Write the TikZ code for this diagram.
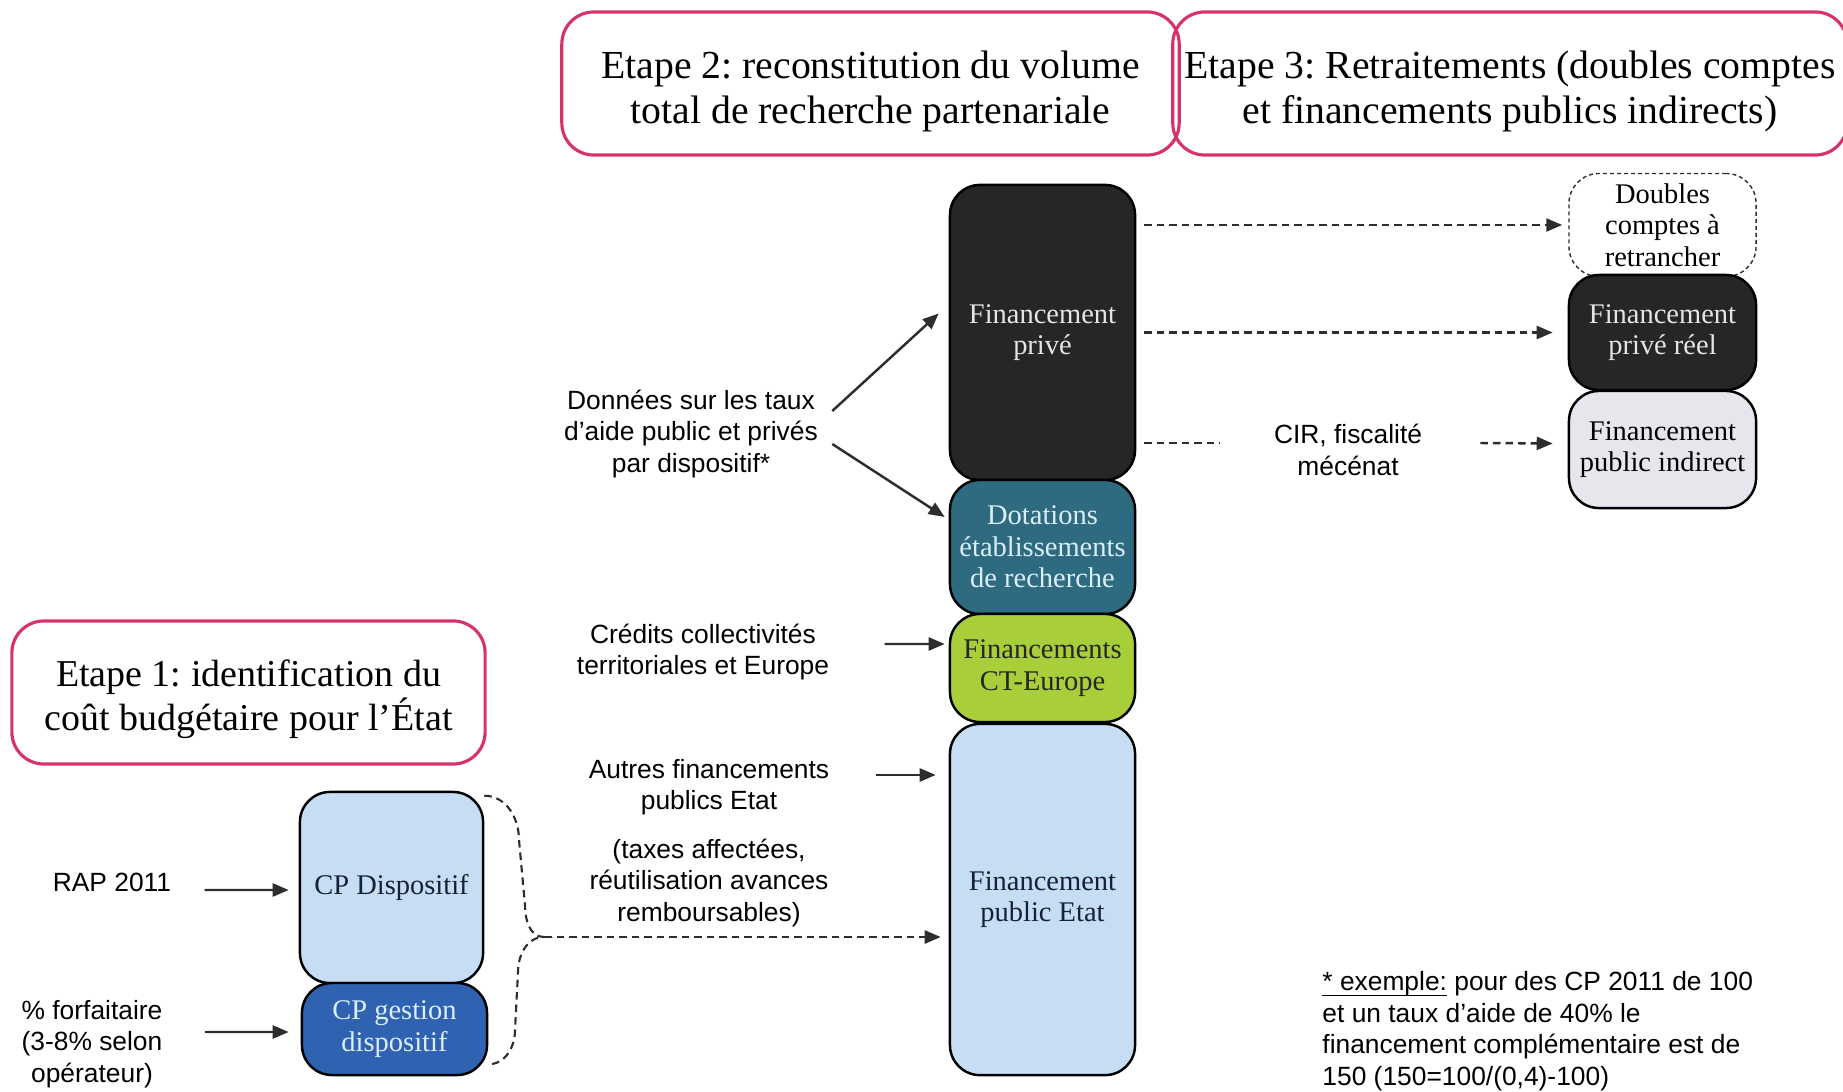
\documentclass[tikz,border=0pt]{standalone}
\usepackage{fontspec}
\setmainfont{Liberation Serif}
\setsansfont{Liberation Sans}
\usetikzlibrary{arrows.meta}
\definecolor{rose}{RGB}{214,52,104}
\definecolor{noir}{RGB}{38,38,38}
\definecolor{sarcelle}{RGB}{46,106,128}
\definecolor{vert}{RGB}{168,206,58}
\definecolor{bleuclair}{RGB}{198,221,243}
\definecolor{bleu}{RGB}{48,98,178}
\definecolor{grisclair}{RGB}{230,230,237}
\definecolor{anthracite}{RGB}{45,45,45}
\definecolor{marine}{RGB}{22,32,62}
\definecolor{pale}{RGB}{218,238,248}
\newcommand\souligne[1]{$\underline{\smash{\hbox{#1}}}$}
\frenchspacing

\begin{document}
\begin{tikzpicture}[x=0.01cm,y=-0.01cm,
  etape/.style={draw=rose,line width=0.9pt,rounded corners=0.32cm,align=center,minimum height=1.43cm,font=\fontsize{11.3}{12.8}\selectfont},
  bloc/.style={draw=black,line width=0.7pt,rounded corners=0.3cm,align=center,inner sep=0pt,minimum width=1.85cm,font=\fontsize{8.1}{9}\selectfont},
  lbl/.style={align=center,font=\sffamily\fontsize{7.5}{9}\selectfont},
  ligne/.style={draw=anthracite,line width=0.7pt},
  fleche/.style={ligne,-{Triangle[length=1.6mm,width=1.3mm]}},
  pointille/.style={dash pattern=on 0.75mm off 0.5mm}]
  \useasboundingbox (0,0) rectangle (1843,1091);

  % les trois etapes
  \node[etape,minimum width=6.17cm] (e2) at (870.5,83.5) {\rule{0pt}{4.3mm}Etape 2: reconstitution du volume\\total de recherche partenariale};
  \node[etape,minimum width=6.62cm] (e3) at (1510,83.5) {\rule{0pt}{4.3mm}Etape 3: Retraitements (doubles comptes\\et financements publics indirects)};
  \node[etape,minimum width=4.73cm,font=\fontsize{10.8}{12.5}\selectfont] (e1) at (248.5,692.5) {\rule{0pt}{4.1mm}Etape 1: identification du\\coût budgétaire pour l’État};

  % colonne centrale
  \node[bloc,fill=noir,text=gray!20,minimum height=2.95cm] (priv) at (1042.5,332.5) {Financement\\privé};
  \node[bloc,fill=sarcelle,text=pale,minimum height=1.34cm] (dot) at (1042.5,547) {Dotations\\établissements\\de recherche};
  \node[bloc,fill=vert,text=black!85,minimum height=1.08cm] (ct) at (1042.5,668) {Financements\\CT-Europe};
  \node[bloc,fill=bleuclair,text=marine,minimum height=3.51cm] (pub) at (1042.5,899.5) {Financement\\public Etat};

  % colonne de droite
  \node[bloc,draw=anthracite,line width=0.4pt,dash pattern=on 0.4mm off 0.3mm,fill=white,minimum width=1.87cm,minimum height=1.03cm] (dbl) at (1662.5,225) {Doubles\\comptes à\\retrancher};
  \node[bloc,fill=noir,text=gray!20,minimum width=1.87cm,minimum height=1.15cm] (reel) at (1662.5,332.5) {Financement\\privé réel};
  \node[bloc,fill=grisclair,minimum width=1.87cm,minimum height=1.17cm] (ind) at (1662.5,449.5) {Financement\\public indirect};

  % etape 1
  \node[bloc,fill=bleuclair,text=marine,minimum width=1.83cm,minimum height=1.91cm] (cpd) at (391.5,887.5) {CP Dispositif};
  \node[bloc,fill=bleu,text=pale,minimum height=0.92cm] (cpg) at (394.5,1029) {CP gestion\\dispositif};

  % textes
  \node[lbl] (don) at (691,434) {Données sur les taux\\d’aide public et privés\\par dispositif*};
  \node[lbl] (cre) at (703,652) {Crédits collectivités\\territoriales et Europe};
  \node[lbl] (aut) at (709,787) {Autres financements\\publics Etat};
  \node[lbl] (tax) at (709,883) {(taxes affectées,\\réutilisation avances\\remboursables)};
  \node[lbl] (rap) at (112,882) {RAP 2011};
  \node[lbl] (forf) at (92,1044) {\% forfaitaire\\(3-8\% selon\\opérateur)};
  \node[lbl] (cir) at (1348,450) {CIR, fiscalité\\mécénat};
  \node[lbl,align=left,anchor=north west] (note) at (1310,959) {\souligne{* exemple:} pour des CP 2011 de 100\\et un taux d’aide de 40\% le\\financement complémentaire est de\\150 (150=100/(0,4)-100)};

  % fleches pleines
  \draw[fleche] ([xshift=0.2mm,yshift=2.3mm]don.east) -- ([xshift=-1mm,yshift=1.9mm]priv.west);
  \draw[fleche] ([xshift=0.2mm,yshift=-1mm]don.east) -- ([xshift=-0.4mm,yshift=3mm]dot.west);
  \draw[fleche] ([xshift=4.3mm,yshift=0.8mm]cre.east) -- ([xshift=-0.4mm,yshift=2.4mm]ct.west);
  \coordinate (a1) at ([xshift=3.4mm,yshift=1.2mm]aut.east);
  \draw[fleche,shorten >=1.3mm] (a1) -- (a1 -| pub.west);
  \draw[fleche] ([xshift=2.1mm,yshift=-0.8mm]rap.east) -- ([xshift=-1mm,yshift=-0.25mm]cpd.west);
  \draw[fleche] ([xshift=3mm,yshift=1.2mm]forf.east) -- ([xshift=-1.2mm,yshift=-0.3mm]cpg.west);

  % accolade et fleches pointillees
  \coordinate (pointe) at (544,937);
  \draw[ligne,line width=0.6pt,pointille] ([yshift=-0.5mm]cpd.north east) to[out=0,in=90] (519,840) -- (525,905) to[out=-90,in=180] (pointe)
    to[out=180,in=90] (518,972) -- (515,1030) to[out=-90,in=0] ([yshift=1.2mm]cpg.south east);
  \draw[fleche,pointille,shorten >=0.8mm] (pointe) -- (pointe -| pub.west);
  \draw[fleche,pointille] ([xshift=0.8mm]priv.east |- dbl.west) -- ([xshift=-0.6mm]dbl.west);
  \draw[fleche,pointille] ([xshift=0.8mm]priv.east) -- ([xshift=-1.5mm]reel.west);
  \draw[ligne,pointille] ([xshift=0.8mm,yshift=0.7mm]priv.east |- cir.west) -- ([xshift=-4.2mm,yshift=0.7mm]cir.west);
  \draw[fleche,pointille] ([xshift=4.6mm,yshift=0.7mm]cir.east) -- ([xshift=-1.5mm,yshift=0.6mm]ind.west);
\end{tikzpicture}
\end{document}
